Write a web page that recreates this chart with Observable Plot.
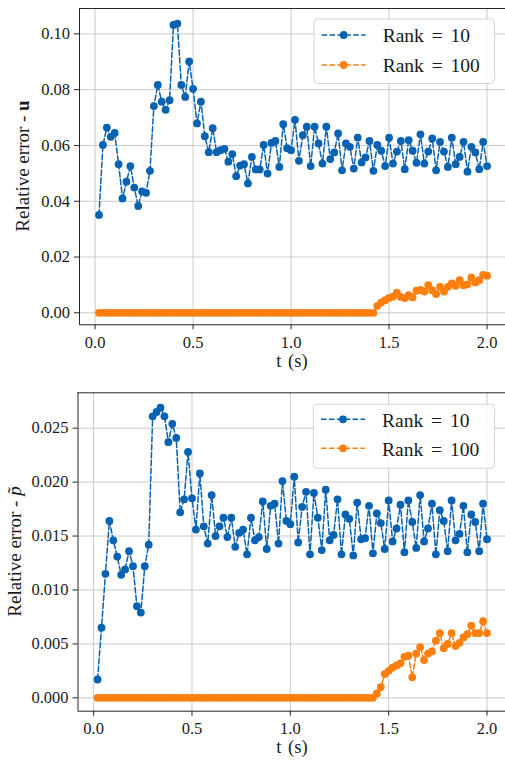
<!DOCTYPE html>
<html><head><meta charset="utf-8">
<script src="https://cdn.jsdelivr.net/npm/d3@7"></script>
<script src="https://cdn.jsdelivr.net/npm/@observablehq/plot@0.6"></script>
<style>
body{margin:0;background:#fff;}
#c{width:505px;}
svg{display:block;}
</style></head><body><div id="c"></div>
<script>
// time steps (s)
const t = [0.02,0.04,0.06,0.08,0.10,0.12,0.14,0.16,0.18,0.20,0.22,0.24,0.26,0.28,0.30,0.32,0.34,0.36,0.38,0.40,
0.42,0.44,0.46,0.48,0.50,0.52,0.54,0.56,0.58,0.60,0.62,0.64,0.66,0.68,0.70,0.72,0.74,0.76,0.78,0.80,
0.82,0.84,0.86,0.88,0.90,0.92,0.94,0.96,0.98,1.00,1.02,1.04,1.06,1.08,1.10,1.12,1.14,1.16,1.18,1.20,
1.22,1.24,1.26,1.28,1.30,1.32,1.34,1.36,1.38,1.40,1.42,1.44,1.46,1.48,1.50,1.52,1.54,1.56,1.58,1.60,
1.62,1.64,1.66,1.68,1.70,1.72,1.74,1.76,1.78,1.80,1.82,1.84,1.86,1.88,1.90,1.92,1.94,1.96,1.98,2.00];

// Relative error - u
const uRank10 = [0.0351,0.0602,0.0664,0.0631,0.0645,0.0533,0.0410,0.0470,0.0526,0.0449,0.0383,0.0435,0.0430,0.0509,0.0741,0.0817,0.0757,0.0728,0.0762,0.1032,
0.1037,0.0817,0.0774,0.0901,0.0803,0.0679,0.0757,0.0633,0.0576,0.0662,0.0576,0.0583,0.0588,0.0542,0.0569,0.0490,0.0528,0.0533,0.0464,0.0559,
0.0514,0.0514,0.0602,0.0499,0.0609,0.0616,0.0523,0.0676,0.0590,0.0583,0.0692,0.0545,0.0637,0.0667,0.0526,0.0667,0.0607,0.0535,0.0667,0.0551,
0.0575,0.0643,0.0511,0.0607,0.0595,0.0517,0.0628,0.0539,0.0557,0.0616,0.0509,0.0602,0.0581,0.0526,0.0628,0.0535,0.0578,0.0616,0.0515,0.0619,
0.0581,0.0538,0.0640,0.0535,0.0578,0.0625,0.0511,0.0613,0.0578,0.0523,0.0628,0.0533,0.0559,0.0613,0.0506,0.0595,0.0575,0.0515,0.0613,0.0526];
const uRank100 = [0,0,0,0,0,0,0,0,0,0,0,0,0,0,0,0,0,0,0,0,
0,0,0,0,0,0,0,0,0,0,0,0,0,0,0,0,0,0,0,0,
0,0,0,0,0,0,0,0,0,0,0,0,0,0,0,0,0,0,0,0,
0,0,0,0,0,0,0,0,0,0,0,0.0025,0.0037,0.0045,0.0053,0.0058,0.0072,0.0057,0.0053,0.0063,
0.0055,0.0079,0.0082,0.0076,0.0099,0.0081,0.0067,0.0093,0.0076,0.0093,0.0105,0.0097,0.0117,0.0099,0.0102,0.0127,0.0109,0.0117,0.0136,0.0133];

// Relative error - p~
const pRank10 = [0.0017,0.0065,0.0115,0.0164,0.0146,0.0131,0.0114,0.0119,0.0136,0.0122,0.0085,0.0079,0.0122,0.0142,0.0261,0.0265,0.0269,0.0261,0.0237,0.0254,
0.0241,0.0172,0.0184,0.0228,0.0185,0.0156,0.0208,0.0159,0.0143,0.0188,0.0150,0.0159,0.0167,0.0149,0.0167,0.0140,0.0153,0.0156,0.0133,0.0167,
0.0146,0.0149,0.0182,0.0138,0.0178,0.0180,0.0143,0.0201,0.0164,0.0161,0.0205,0.0144,0.0177,0.0191,0.0133,0.0190,0.0167,0.0137,0.0193,0.0146,
0.0151,0.0184,0.0133,0.0170,0.0166,0.0132,0.0181,0.0147,0.0148,0.0178,0.0134,0.0171,0.0162,0.0138,0.0183,0.0145,0.0157,0.0179,0.0135,0.0183,
0.0163,0.0139,0.0188,0.0145,0.0157,0.0180,0.0133,0.0174,0.0164,0.0136,0.0183,0.0146,0.0152,0.0178,0.0135,0.0170,0.0163,0.0136,0.0180,0.0147];
const pRank100 = [0,0,0,0,0,0,0,0,0,0,0,0,0,0,0,0,0,0,0,0,
0,0,0,0,0,0,0,0,0,0,0,0,0,0,0,0,0,0,0,0,
0,0,0,0,0,0,0,0,0,0,0,0,0,0,0,0,0,0,0,0,
0,0,0,0,0,0,0,0,0,0,0,0.0004,0.0010,0.0022,0.0025,0.0028,0.0030,0.0032,0.0038,0.0039,
0.0019,0.0041,0.0047,0.0035,0.0041,0.0043,0.0053,0.0060,0.0046,0.0050,0.0060,0.0048,0.0051,0.0056,0.0059,0.0067,0.0060,0.0060,0.0071,0.0060];

const seriesNames = ["Rank = 10", "Rank = 100"];
const seriesColors = ["#0762b2", "#ff7f0e"];
const xTicks = [0, 0.5, 1.0, 1.5, 2.0];
const uTicks = [0, 0.02, 0.04, 0.06, 0.08, 0.10];
const pTicks = [0, 0.005, 0.010, 0.015, 0.020, 0.025];

const FONT = "Liberation Serif, DejaVu Serif, serif";
const INK = "#1a1a1a";

function table(a, b) {
  const rows = [];
  t.forEach((ti, i) => rows.push({t: ti, v: a[i], s: seriesNames[0]}));
  t.forEach((ti, i) => rows.push({t: ti, v: b[i], s: seriesNames[1]}));
  return rows;
}

function panel(o) {
  const data = table(o.a, o.b);
  const xDom = [-0.0795, 2.094];
  const svg = Plot.plot({
    width: 505, height: o.height,
    marginLeft: o.ml, marginRight: 0, marginTop: o.mt, marginBottom: o.mb,
    style: {fontFamily: FONT, fontSize: "16.5px", color: INK, background: "#fff", overflow: "visible"},
    x: {domain: xDom},
    y: {domain: o.yDomain},
    color: {domain: seriesNames, range: seriesColors},
    marks: [
      Plot.gridX(xTicks, {stroke: "#c4c4c4", strokeOpacity: 1, strokeWidth: 0.9}),
      Plot.gridY(o.yTicks, {stroke: "#c4c4c4", strokeOpacity: 1, strokeWidth: 0.9}),
      Plot.line(data, {x: "t", y: "v", z: "s", stroke: "s", strokeWidth: 1.5, strokeDasharray: "5.5,2.4"}),
      Plot.dot(data, {x: "t", y: "v", fill: "s", r: 3.9}),
      Plot.ruleY([o.yDomain[0], o.yDomain[1]], {stroke: "#262626", strokeWidth: 1}),
      Plot.ruleX([xDom[0]], {stroke: "#262626", strokeWidth: 1}),
      Plot.axisX(xTicks, {tickSize: 5, tickPadding: 6.5, tickFormat: d3.format(".1f"), label: null, stroke: "#262626"}),
      Plot.axisY(o.yTicks, {tickSize: 5, tickPadding: 4.5, tickFormat: d3.format(o.yFmt), label: null, stroke: "#262626"})
    ]
  });
  svg.setAttribute("font-family", FONT);
  const s = d3.select(svg);
  s.selectAll("text").attr("font-family", FONT);
  // y label
  const yl = s.append("text")
    .attr("transform", `translate(${o.ylx},${o.yly}) rotate(-90)`)
    .attr("text-anchor", "middle").attr("font-size", 19).attr("fill", INK)
    .attr("font-family", FONT);
  yl.append("tspan").text("Relative error - ");
  if (o.ybold) yl.append("tspan").attr("font-weight", "bold").text(o.ybold);
  if (o.yital) yl.append("tspan").attr("font-style", "italic").text(o.yital);
  // x label
  s.append("text").attr("x", 292).attr("y", o.xly).attr("text-anchor", "middle")
    .attr("font-size", 18.5).attr("word-spacing", "2px").attr("fill", INK).attr("font-family", FONT).text("t (s)");
  // legend
  const L = o.legend;
  s.append("rect").attr("x", L.x0).attr("y", L.y0).attr("width", L.x1 - L.x0).attr("height", L.y1 - L.y0)
    .attr("rx", 4).attr("fill", "#fff").attr("fill-opacity", 0.85).attr("stroke", "#d4d4d4").attr("stroke-width", 1);
  seriesNames.forEach((name, i) => {
    const y = L.rows[i];
    s.append("line").attr("x1", L.lx0).attr("x2", L.lx1).attr("y1", y).attr("y2", y)
      .attr("stroke", seriesColors[i]).attr("stroke-width", 1.5).attr("stroke-dasharray", "5.5,2.4");
    s.append("circle").attr("cx", (L.lx0 + L.lx1) / 2).attr("cy", y).attr("r", 3.9).attr("fill", seriesColors[i]);
    s.append("text").attr("x", L.tx).attr("y", L.base[i]).attr("text-anchor", "start")
      .attr("font-size", 19.5).attr("word-spacing", "3px")
      .attr("fill", INK).attr("font-family", FONT).text(name);
  });
  return svg;
}

const c = document.getElementById("c");
c.appendChild(panel({
  a: uRank10, b: uRank100, height: 380, ml: 79, mt: 8, mb: 55.7,
  yDomain: [-0.0043, 0.1091], yTicks: uTicks, yFmt: ".2f",
  ylx: 29, yly: 166, ybold: "u", xly: 366.5,
  legend: {x0: 314, y0: 19, x1: 494.5, y1: 83.5, rows: [35, 65], base: [42.3, 72.3], lx0: 321.7, lx1: 365.7, tx: 382.7}
}));
c.appendChild(panel({
  a: pRank10, b: pRank100, height: 381, ml: 77.5, mt: 12.3, mb: 50.3,
  yDomain: [-0.00124, 0.02828], yTicks: pTicks, yFmt: ".3f",
  ylx: 20.5, yly: 171.5, yital: "p\u0303", xly: 372.5,
  legend: {x0: 313.3, y0: 24.3, x1: 494.5, y1: 88.3, rows: [39.3, 68.3], base: [47, 76], lx0: 321, lx1: 365, tx: 382}
}));
</script></body></html>
